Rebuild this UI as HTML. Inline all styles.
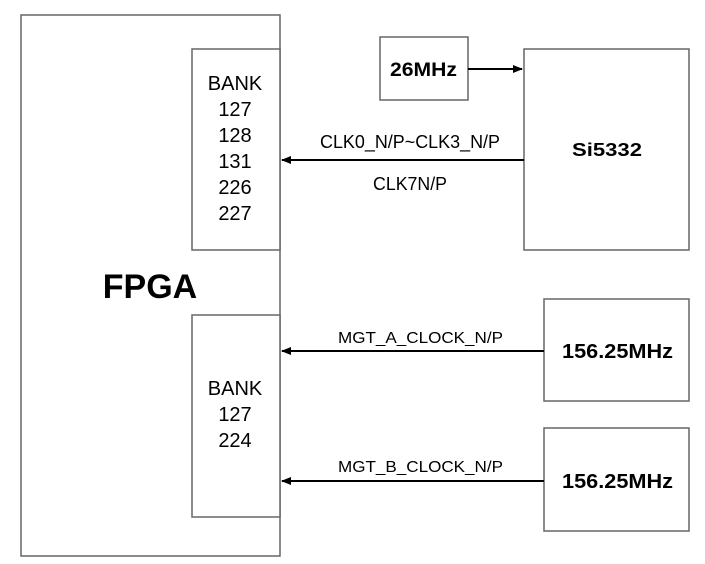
<!DOCTYPE html>
<html><head><meta charset="utf-8"><style>html,body{margin:0;padding:0;background:#fff}svg{display:block}</style></head>
<body>
<svg width="705" height="564" viewBox="0 0 705 564" xmlns="http://www.w3.org/2000/svg" font-family="Liberation Sans, Arial, sans-serif">
<defs><marker id="a" markerWidth="10" markerHeight="8" refX="9" refY="4" orient="auto" markerUnits="userSpaceOnUse"><path d="M0,0 L10,4 L0,8 Z" fill="#000"/></marker></defs>
<g fill="#fff" stroke="#666" stroke-width="1.5">
<rect x="21" y="15" width="259" height="541"/>
<rect x="192" y="49" width="88" height="201"/>
<rect x="192" y="315" width="88" height="202"/>
<rect x="380" y="37" width="88" height="63"/>
<rect x="524" y="49" width="165" height="201"/>
<rect x="544" y="299" width="145" height="102"/>
<rect x="544" y="428" width="145" height="103"/>
</g>
<g stroke="#000" stroke-width="2" fill="none">
<line x1="468" y1="69" x2="522" y2="69" marker-end="url(#a)"/>
<line x1="524" y1="160" x2="282" y2="160" marker-end="url(#a)"/>
<line x1="544" y1="351" x2="282" y2="351" marker-end="url(#a)"/>
<line x1="544" y1="481" x2="282" y2="481" marker-end="url(#a)"/>
</g>
<text x="150" y="298" font-size="34" font-weight="bold" text-anchor="middle">FPGA</text>
<g font-size="20" text-anchor="middle" fill="#000">
<text x="235" y="90">BANK</text><text x="235" y="116">127</text><text x="235" y="142">128</text><text x="235" y="168">131</text><text x="235" y="194">226</text><text x="235" y="220">227</text>
<text x="235" y="395">BANK</text><text x="235" y="421">127</text><text x="235" y="447">224</text>
</g>
<g font-size="18" fill="#000">
<text x="320" y="148" textLength="180" lengthAdjust="spacingAndGlyphs">CLK0_N/P~CLK3_N/P</text>
<text x="373" y="190" textLength="74" lengthAdjust="spacingAndGlyphs">CLK7N/P</text>
<text x="338" y="343" font-size="16" textLength="165" lengthAdjust="spacingAndGlyphs">MGT_A_CLOCK_N/P</text>
<text x="338" y="472" font-size="16" textLength="165" lengthAdjust="spacingAndGlyphs">MGT_B_CLOCK_N/P</text>
</g>
<g font-weight="bold" fill="#000">
<text x="390" y="76" font-size="19" textLength="67" lengthAdjust="spacingAndGlyphs">26MHz</text>
<text x="572" y="156" font-size="18" textLength="70" lengthAdjust="spacingAndGlyphs">Si5332</text>
<text x="562" y="358" font-size="20" textLength="111" lengthAdjust="spacingAndGlyphs">156.25MHz</text>
<text x="562" y="488" font-size="20" textLength="111" lengthAdjust="spacingAndGlyphs">156.25MHz</text>
</g>
</svg>
</body></html>
